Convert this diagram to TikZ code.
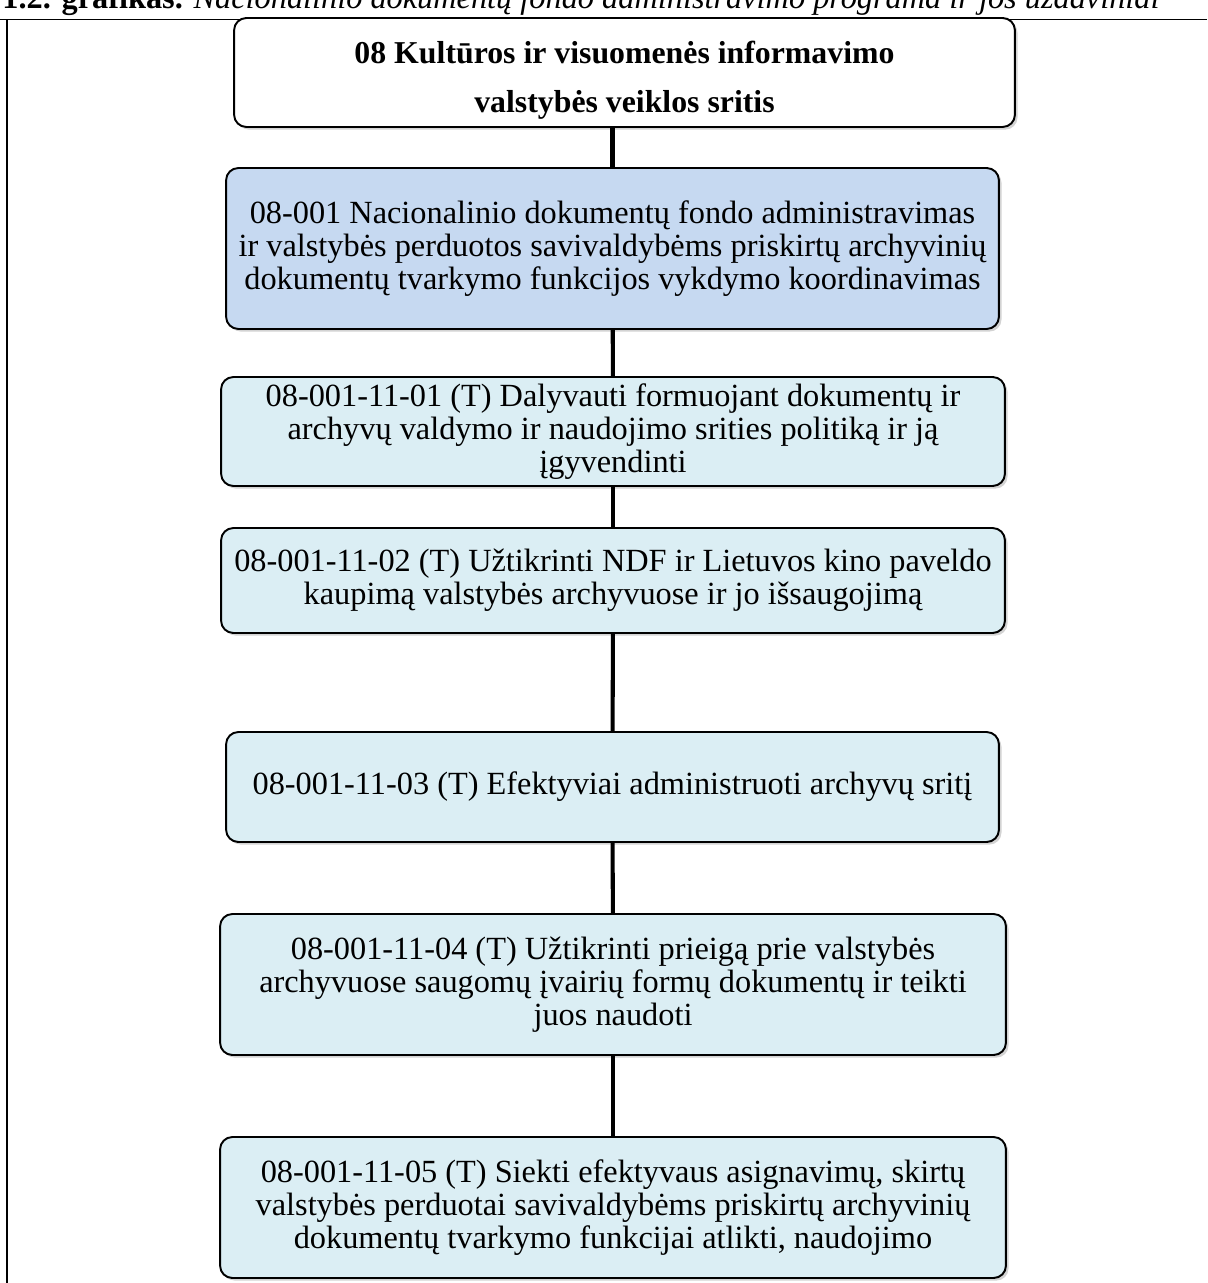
\documentclass[tikz,border=0pt]{standalone}
\usepackage{fontspec}
\setmainfont{Liberation Serif}
\usetikzlibrary{shadows}
\definecolor{progblue}{HTML}{C6D9F1}
\definecolor{taskblue}{HTML}{DBEEF4}
\newlength{\boxline}
\setlength{\boxline}{1.1pt}

\begin{document}
\begin{tikzpicture}[x=0.02cm,y=-0.02cm,
    box/.style={draw=black,line width=\boxline,rounded corners=7pt,align=center,
                font=\fontsize{18.4}{18.8}\selectfont,inner sep=0pt,
                drop shadow={shadow xshift=1.5pt,shadow yshift=-1.5pt,opacity=0.35}},
    link/.style={line width=2.3pt}]
            \useasboundingbox (0,0) rectangle (1207,1283);
            \node[anchor=base west,inner sep=0pt,font=\fontsize{18.4}{18.6}\selectfont] (cap) at (2,9) {\textbf{1.2. grafikas.} \textit{Nacionalinio dokumentų fondo administravimo programa ir jos uždaviniai}};
            \draw[line width=1pt] (0,19.5)--(1207,19.5);
            \draw[line width=1.3pt] (7,19.5)--(7,1283);
            \node[box,fill=white,minimum width=15.62cm,minimum height=2.18cm,font=\fontsize{18.1}{28}\selectfont\bfseries] (area) at (624.5,72.5) {\rule{0pt}{22pt}08 Kultūros ir visuomenės informavimo\\ valstybės veiklos sritis};
            \node[box,fill=progblue,minimum width=15.46cm,minimum height=3.22cm] (prog) at (612.5,248.5) {08-001 Nacionalinio dokumentų fondo administravimas\\ ir valstybės perduotos savivaldybėms priskirtų archyvinių\\ dokumentų tvarkymo funkcijos vykdymo koordinavimas};
            \node[box,fill=taskblue,minimum width=15.68cm,minimum height=2.18cm] (t1) at (613,431.5) {08-001-11-01 (T) Dalyvauti formuojant dokumentų ir\\ archyvų valdymo ir naudojimo srities politiką ir ją\\ įgyvendinti};
            \node[box,fill=taskblue,minimum width=15.68cm,minimum height=2.1cm] (t2) at (613,580.5) {08-001-11-02 (T) Užtikrinti NDF ir Lietuvos kino paveldo\\ kaupimą valstybės archyvuose ir jo išsaugojimą};
            \node[box,fill=taskblue,minimum width=15.46cm,minimum height=2.2cm] (t3) at (612.5,787) {08-001-11-03 (T) Efektyviai administruoti archyvų sritį};
            \node[box,fill=taskblue,minimum width=15.72cm,minimum height=2.82cm] (t4) at (613,984.5) {08-001-11-04 (T) Užtikrinti prieigą prie valstybės\\ archyvuose saugomų įvairių formų dokumentų ir teikti\\ juos naudoti};
            \node[box,fill=taskblue,minimum width=15.72cm,minimum height=2.82cm] (t5) at (613,1207.5) {08-001-11-05 (T) Siekti efektyvaus asignavimų, skirtų\\ valstybės perduotai savivaldybėms priskirtų archyvinių\\ dokumentų tvarkymo funkcijai atlikti, naudojimo};
            \draw[link](area.south -| prog.north)--(prog.north);
            \draw[link](prog)--(t1);
            \draw[link](t1)--(t2);
            \draw[link](t2)--(t3);
            \draw[link](t3)--(t4);
            \draw[link](t4)--(t5);
\end{tikzpicture}
\end{document}
